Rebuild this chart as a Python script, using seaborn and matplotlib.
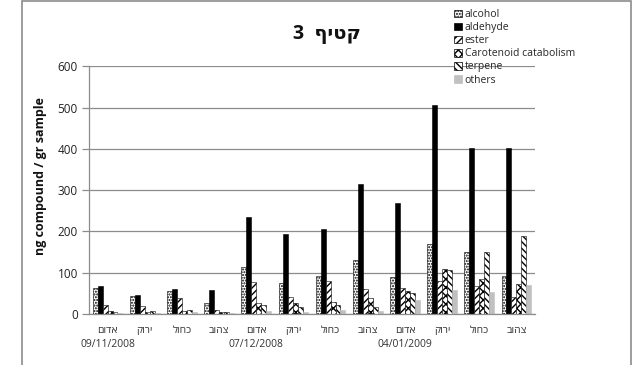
import matplotlib
matplotlib.use("Agg")
import matplotlib.pyplot as plt
from matplotlib.patches import Patch, Rectangle
import seaborn as sns
import pandas as pd

# Harvest 3: volatile compound groups per fruit colour and harvest date
colors_he = ["אדום", "ירוק", "כחול", "צהוב"]
dates = ["09/11/2008", "07/12/2008", "04/01/2009"]

alcohol = [63, 44, 56, 27, 113, 74, 91, 131, 89, 169, 149, 92]
aldehyde = [67, 47, 61, 59, 235, 194, 206, 315, 269, 506, 403, 402]
ester = [21, 19, 39, 10, 77, 41, 81, 61, 63, 81, 69, 40]
carotenoid = [7, 6, 7, 5, 26, 26, 30, 38, 56, 109, 85, 72]
terpene = [6, 7, 10, 4, 22, 18, 22, 18, 52, 106, 149, 188]
others = [3, 3, 5, 2, 7, 6, 10, 7, 34, 58, 54, 70]

series_names = ["alcohol", "aldehyde", "ester", "Carotenoid catabolism",
                "terpene", "others"]
series_values = [alcohol, aldehyde, ester, carotenoid, terpene, others]

samples = [f"{c} {d}" for d in dates for c in colors_he]

rows = []
for name, vals in zip(series_names, series_values):
    for s, v in zip(samples, vals):
        rows.append({"sample": s, "compound": name, "value": v})
df = pd.DataFrame(rows)

sns.set_theme(style="white")
plt.rcParams["font.family"] = ["Open Sans", "DejaVu Sans"]
plt.rcParams["hatch.linewidth"] = 1.0


def visual(s):
    # matplotlib lays text out left-to-right, so Hebrew words are reversed
    return s[::-1]


fig = plt.figure(figsize=(6.38, 3.65), dpi=100)
ax = fig.add_axes([0.1395, 0.1397, 0.699, 0.6787])

sns.barplot(data=df, x="sample", y="value", hue="compound",
            order=samples, hue_order=series_names, width=0.8,
            legend=False, ax=ax, errorbar=None)

styles = [
    dict(facecolor="white", edgecolor="black", hatch="......"),
    dict(facecolor="black", edgecolor="black", hatch=None),
    dict(facecolor="white", edgecolor="black", hatch="/////"),
    dict(facecolor="white", edgecolor="black", hatch="xxxx"),
    dict(facecolor="white", edgecolor="black", hatch="\\\\\\\\\\"),
    dict(facecolor="#c0c0c0", edgecolor="#c0c0c0", hatch=None),
]
for cont, st in zip(ax.containers, styles):
    for bar in cont:
        bar.set_facecolor(st["facecolor"])
        bar.set_edgecolor(st["edgecolor"])
        bar.set_hatch(st["hatch"])
        bar.set_linewidth(0.4)

ax.set_ylim(0, 600)
ax.set_yticks(range(0, 601, 100))
ax.yaxis.grid(True, color="#8c8c8c", linewidth=0.9)
ax.set_axisbelow(True)
for side in ["top", "right"]:
    ax.spines[side].set_visible(False)
for side in ["left", "bottom"]:
    ax.spines[side].set_color("#8c8c8c")
    ax.spines[side].set_linewidth(0.9)
ax.tick_params(axis="y", which="major", left=True, length=5, width=0.9,
               color="#8c8c8c", labelsize=8.5, pad=3, labelcolor="#222222")
ax.tick_params(axis="x", bottom=False, labelsize=7.5, pad=2,
               labelcolor="#333333")

labels = []
for i, d in enumerate(dates):
    for j, c in enumerate(colors_he):
        lab = visual(c)
        if j == 0:
            lab = lab + "\n" + d
        labels.append(lab)
ax.set_xticks(range(len(samples)))
ax.set_xticklabels(labels, linespacing=1.3, va="top")
ax.set_xlabel("")
ax.set_ylabel("")

fig.text(0.063, 0.518, "ng compound / gr sample", rotation=90,
         ha="center", va="center", fontsize=9, fontweight="bold",
         color="#111111")
fig.text(0.512, 0.908, "3  " + visual("קטיף"), ha="center", va="center",
         fontsize=14, fontweight="bold", color="#111111")

handles = [Patch(facecolor=st["facecolor"], edgecolor=st["edgecolor"],
                 hatch=st["hatch"], linewidth=0.5) for st in styles]
fig.legend(handles, series_names, loc="upper left",
           bbox_to_anchor=(0.712, 0.975), frameon=False, fontsize=7.5,
           handlelength=0.75, handleheight=0.75, handletextpad=0.25,
           labelspacing=0.2, borderaxespad=0, borderpad=0)

fig.add_artist(Rectangle((21.7 / 638, -0.05), (631 - 21.7) / 638, 1.05 - 1.5 / 365,
                         transform=fig.transFigure, fill=False,
                         edgecolor="#8c8c8c", linewidth=1.2))

fig.savefig("out.png", dpi=100)
